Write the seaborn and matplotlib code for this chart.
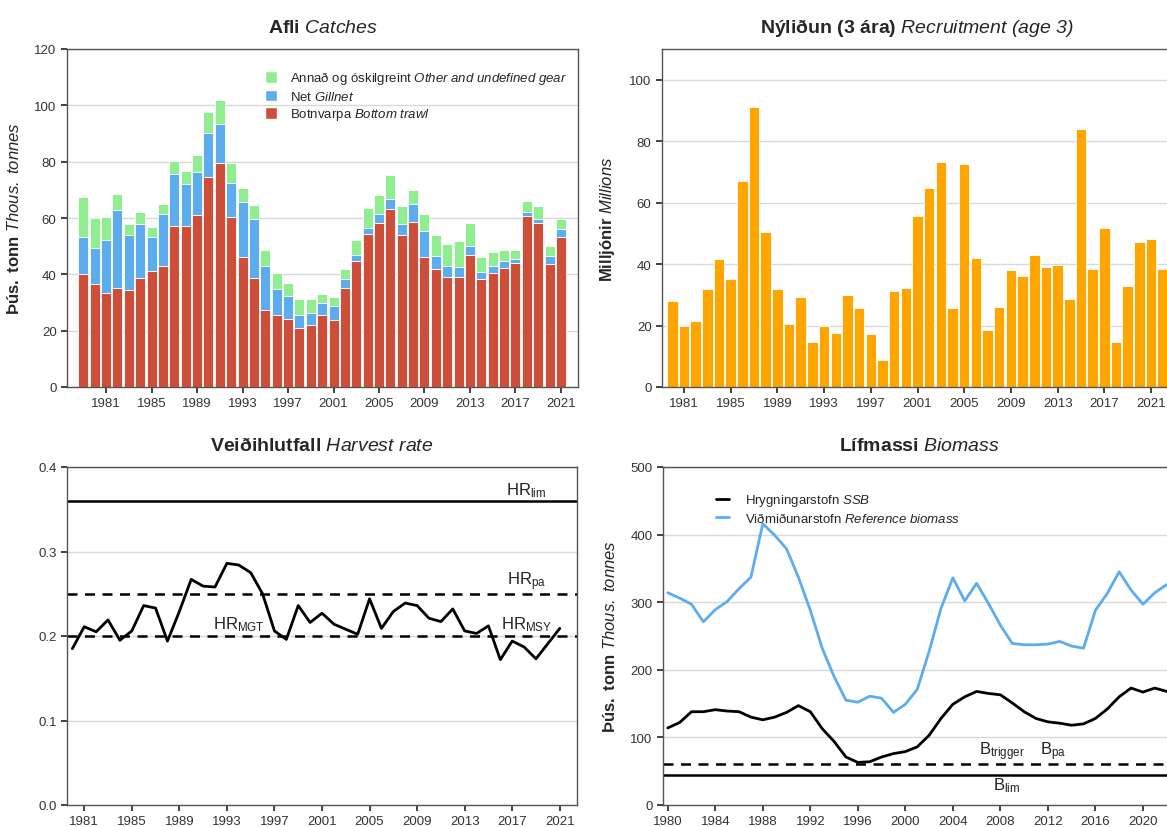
import pandas as pd
import seaborn as sns
import matplotlib.pyplot as plt
from matplotlib.patches import Patch
from matplotlib.lines import Line2D

# ---- data ----
catch_years = list(range(1979, 2022))
trawl = [40.0, 36.4, 33.2, 35.0, 34.4, 38.8, 41.3, 42.8, 57.2, 57.0,
         60.9, 74.5, 79.7, 60.5, 46.1, 38.8, 27.5, 25.5, 24.3, 21.0,
         22.1, 25.5, 23.9, 35.0, 44.7, 54.4, 58.2, 63.1, 54.0, 58.6,
         46.0, 42.0, 39.2, 39.0, 47.0, 38.3, 40.4, 42.4, 44.0, 60.8,
         58.4, 43.7, 53.1]
gillnet = [13.1, 12.9, 18.9, 28.0, 19.5, 18.9, 11.8, 18.7, 18.5, 15.1,
           15.3, 15.8, 13.7, 12.1, 19.7, 21.0, 15.4, 9.3, 7.9, 4.7,
           4.3, 4.3, 4.7, 3.5, 2.1, 2.2, 3.3, 3.8, 4.0, 6.4,
           9.4, 4.5, 3.6, 3.7, 3.2, 2.4, 2.4, 2.5, 1.3, 1.5,
           1.1, 2.8, 2.9]
other = [14.5, 10.7, 8.3, 5.6, 4.1, 4.6, 3.6, 3.3, 4.7, 4.7,
         6.0, 7.5, 8.6, 6.8, 4.9, 4.9, 5.9, 5.5, 4.9, 5.6,
         4.9, 3.1, 3.2, 3.5, 5.3, 6.9, 6.8, 8.4, 6.1, 5.0,
         5.9, 7.4, 8.0, 9.0, 8.0, 5.4, 5.3, 3.9, 3.5, 3.7,
         4.7, 3.4, 3.5]

rec_years = list(range(1980, 2023))
recruitment = [27.9, 19.9, 21.4, 31.9, 41.6, 35.1, 67.0, 91.0, 50.4, 31.9,
               20.6, 29.3, 14.7, 19.9, 17.6, 30.0, 25.7, 17.2, 8.7, 31.3,
               32.1, 55.5, 64.9, 73.1, 25.7, 72.6, 41.9, 18.5, 25.9, 38.0,
               36.0, 42.8, 39.1, 39.6, 28.6, 84.0, 38.4, 51.7, 14.7, 33.0,
               47.3, 48.1, 38.5]

hr_years = list(range(1980, 2022))
harvest_rate = [0.185, 0.211, 0.205, 0.219, 0.195, 0.206, 0.236, 0.233, 0.194, 0.229,
                0.267, 0.259, 0.258, 0.286, 0.284, 0.275, 0.250, 0.206, 0.196, 0.236,
                0.216, 0.227, 0.214, 0.208, 0.202, 0.244, 0.209, 0.229, 0.239, 0.236,
                0.221, 0.217, 0.232, 0.206, 0.203, 0.212, 0.172, 0.194, 0.187, 0.173,
                0.191, 0.209]
hr_lim, hr_pa, hr_msy = 0.36, 0.25, 0.20

bio_years = list(range(1980, 2023))
ssb = [114, 122, 138, 138, 141, 139, 138, 130, 126, 130,
       137, 147, 138, 113, 94, 71, 63, 64, 71, 76,
       79, 86, 103, 128, 149, 160, 168, 165, 163, 151,
       138, 128, 123, 121, 118, 120, 128, 142, 160, 173,
       167, 173, 168]
ref_biomass = [314, 306, 297, 271, 289, 301, 320, 337, 416, 399,
               379, 337, 288, 232, 190, 155, 152, 161, 158, 137,
               149, 171, 227, 291, 336, 302, 328, 298, 266, 239,
               237, 237, 238, 242, 235, 232, 288, 313, 345, 318,
               297, 314, 326]
b_trigger, b_lim = 61, 44

# italic parts use \mathsf, mapped to the italic face below (keeps digits and brackets slanted)
gear_labels = ["Annað og óskilgreint $\\mathsf{Other\\ and\\ undefined\\ gear}$",
               "Net $\\mathsf{Gillnet}$",
               "Botnvarpa $\\mathsf{Bottom\\ trawl}$"]
gear_colors = ["#90EE90", "#5CACEE", "#CD4F39"]
bio_labels = ["Hrygningarstofn $\\mathsf{SSB}$",
              "Viðmiðunarstofn $\\mathsf{Reference\\ biomass}$"]
bio_colors = ["black", "#5CACEE"]

# ---- style ----
sns.set_style("ticks")
plt.rcParams["font.family"] = ["Liberation Sans", "DejaVu Sans"]
plt.rcParams["mathtext.fontset"] = "custom"
plt.rcParams["mathtext.rm"] = "Liberation Sans"
plt.rcParams["mathtext.it"] = "Liberation Sans:italic"
plt.rcParams["mathtext.sf"] = "Liberation Sans:italic"
plt.rcParams["mathtext.bf"] = "Liberation Sans:bold"
plt.rcParams["axes.edgecolor"] = "#555555"
plt.rcParams["axes.linewidth"] = 1.0
plt.rcParams["xtick.color"] = "#333333"
plt.rcParams["ytick.color"] = "#333333"
plt.rcParams["xtick.labelsize"] = 9.5
plt.rcParams["ytick.labelsize"] = 9.5
plt.rcParams["xtick.major.size"] = 4
plt.rcParams["ytick.major.size"] = 4
plt.rcParams["xtick.major.width"] = 1.3
plt.rcParams["ytick.major.width"] = 1.3

title_size = 14
label_size = 12

fig = plt.figure(figsize=(11.67, 8.28), dpi=100)
W, H = 1167, 828


def px_axes(left, top, right, bottom):
    return fig.add_axes([left / W, 1 - bottom / H, (right - left) / W, (bottom - top) / H])


def finish(ax, title, yticks):
    ax.set_title(title, fontsize=title_size, pad=12)
    ax.set_yticks(yticks)
    ax.yaxis.grid(True, color="#d9d9d9", linewidth=1.0)
    ax.set_axisbelow(True)
    ax.set_xlabel("")
    for s in ax.spines.values():
        s.set_visible(True)


# ---- Afli / Catches ----
ax1 = px_axes(67, 50, 578, 388)
catch_df = pd.DataFrame({
    "year": catch_years * 3,
    "gear": [gear_labels[0]] * len(catch_years) + [gear_labels[1]] * len(catch_years)
            + [gear_labels[2]] * len(catch_years),
    "catch": other + gillnet + trawl,
})
sns.histplot(data=catch_df, x="year", weights="catch", hue="gear", hue_order=gear_labels,
             multiple="stack", discrete=True, shrink=0.88, palette=gear_colors,
             edgecolor="white", linewidth=0.6, alpha=1, legend=False, ax=ax1)
ax1.set_xlim(1977.56, 2022.5)
ax1.set_ylim(0, 120)
ax1.set_xticks(range(1981, 2022, 4))
finish(ax1, "$\\mathbf{Afli}$ $\\mathsf{Catches}$", range(0, 121, 20))
ax1.set_ylabel("$\\mathbf{Þús.\\ tonn}$ $\\mathsf{Thous.\\ tonnes}$", fontsize=label_size, labelpad=9)
handles = [Patch(facecolor=c, edgecolor="white") for c in gear_colors]
ax1.legend(handles, gear_labels, loc="upper left", bbox_to_anchor=(0.365, 0.975), frameon=False,
           fontsize=9.5, handlelength=0.9, handleheight=1.0, handletextpad=1.0, labelspacing=0.25)

# ---- Nýliðun / Recruitment ----
ax2 = px_axes(662, 50, 1173, 388)
sns.barplot(x=rec_years, y=recruitment, native_scale=True, color="#FFA500", saturation=1,
            width=0.9, edgecolor="white", linewidth=0.6, errorbar=None, ax=ax2)
ax2.set_xlim(1979.12, 2022.88)
ax2.set_ylim(0, 110)
ax2.set_xticks(range(1981, 2022, 4))
finish(ax2, "$\\mathbf{Nýliðun\\ (3\\ ára)}$ $\\mathsf{Recruitment\\ (age\\ 3)}$", range(0, 101, 20))
ax2.set_ylabel("$\\mathbf{Milljónir}$ $\\mathsf{Millions}$", fontsize=label_size, labelpad=9)

# ---- Veiðihlutfall / Harvest rate ----
ax3 = px_axes(67, 468, 577, 806)
sns.lineplot(x=hr_years, y=harvest_rate, color="black", linewidth=2, ax=ax3)
ax3.axhline(hr_lim, color="black", linewidth=1.8)
ax3.axhline(hr_pa, color="black", linewidth=1.8, linestyle=(0, (4, 3)))
ax3.axhline(hr_msy, color="black", linewidth=1.8, linestyle=(0, (4, 3)))
ax3.set_xlim(1979.55, 2022.45)
ax3.set_ylim(0, 0.4)
ax3.set_xticks(range(1981, 2022, 4))
finish(ax3, "$\\mathbf{Veiðihlutfall}$ $\\mathsf{Harvest\\ rate}$", [0.0, 0.1, 0.2, 0.3, 0.4])
ax3.set_yticklabels(["0.0", "0.1", "0.2", "0.3", "0.4"])
ax3.set_ylabel("")
ref_kw = dict(fontsize=12, ha="center", va="center", color="#222222")
ax3.text(2018.2, 0.373, "HR$_{\\mathrm{lim}}$", **ref_kw)
ax3.text(2018.2, 0.265, "HR$_{\\mathrm{pa}}$", **ref_kw)
ax3.text(1994.0, 0.215, "HR$_{\\mathrm{MGT}}$", **ref_kw)
ax3.text(2018.2, 0.215, "HR$_{\\mathrm{MSY}}$", **ref_kw)

# ---- Lífmassi / Biomass ----
ax4 = px_axes(663, 468, 1175, 806)
bio_df = pd.DataFrame({
    "year": bio_years * 2,
    "series": [bio_labels[0]] * len(bio_years) + [bio_labels[1]] * len(bio_years),
    "biomass": ssb + ref_biomass,
})
sns.lineplot(data=bio_df, x="year", y="biomass", hue="series", hue_order=bio_labels,
             palette=bio_colors, linewidth=2, legend=False, ax=ax4)
ax4.axhline(b_trigger, color="black", linewidth=1.8, linestyle=(0, (4, 3)))
ax4.axhline(b_lim, color="black", linewidth=1.8)
ax4.set_xlim(1979.6, 2022.7)
ax4.set_ylim(0, 500)
ax4.set_xticks(range(1980, 2021, 4))
finish(ax4, "$\\mathbf{Lífmassi}$ $\\mathsf{Biomass}$", range(0, 501, 100))
ax4.set_ylabel("$\\mathbf{Þús.\\ tonn}$ $\\mathsf{Thous.\\ tonnes}$", fontsize=label_size, labelpad=9)
ax4.text(2008.1, 80, "B$_{\\mathrm{trigger}}$", **ref_kw)
ax4.text(2012.4, 80, "B$_{\\mathrm{pa}}$", **ref_kw)
ax4.text(2008.5, 30, "B$_{\\mathrm{lim}}$", **ref_kw)
line_handles = [Line2D([], [], color=c, linewidth=2) for c in bio_colors]
ax4.legend(line_handles, bio_labels, loc="upper left", bbox_to_anchor=(0.08, 0.96), frameon=False,
           fontsize=9.5, handlelength=1.0, handletextpad=1.2, labelspacing=0.2)

fig.savefig("out.png", dpi=100)
